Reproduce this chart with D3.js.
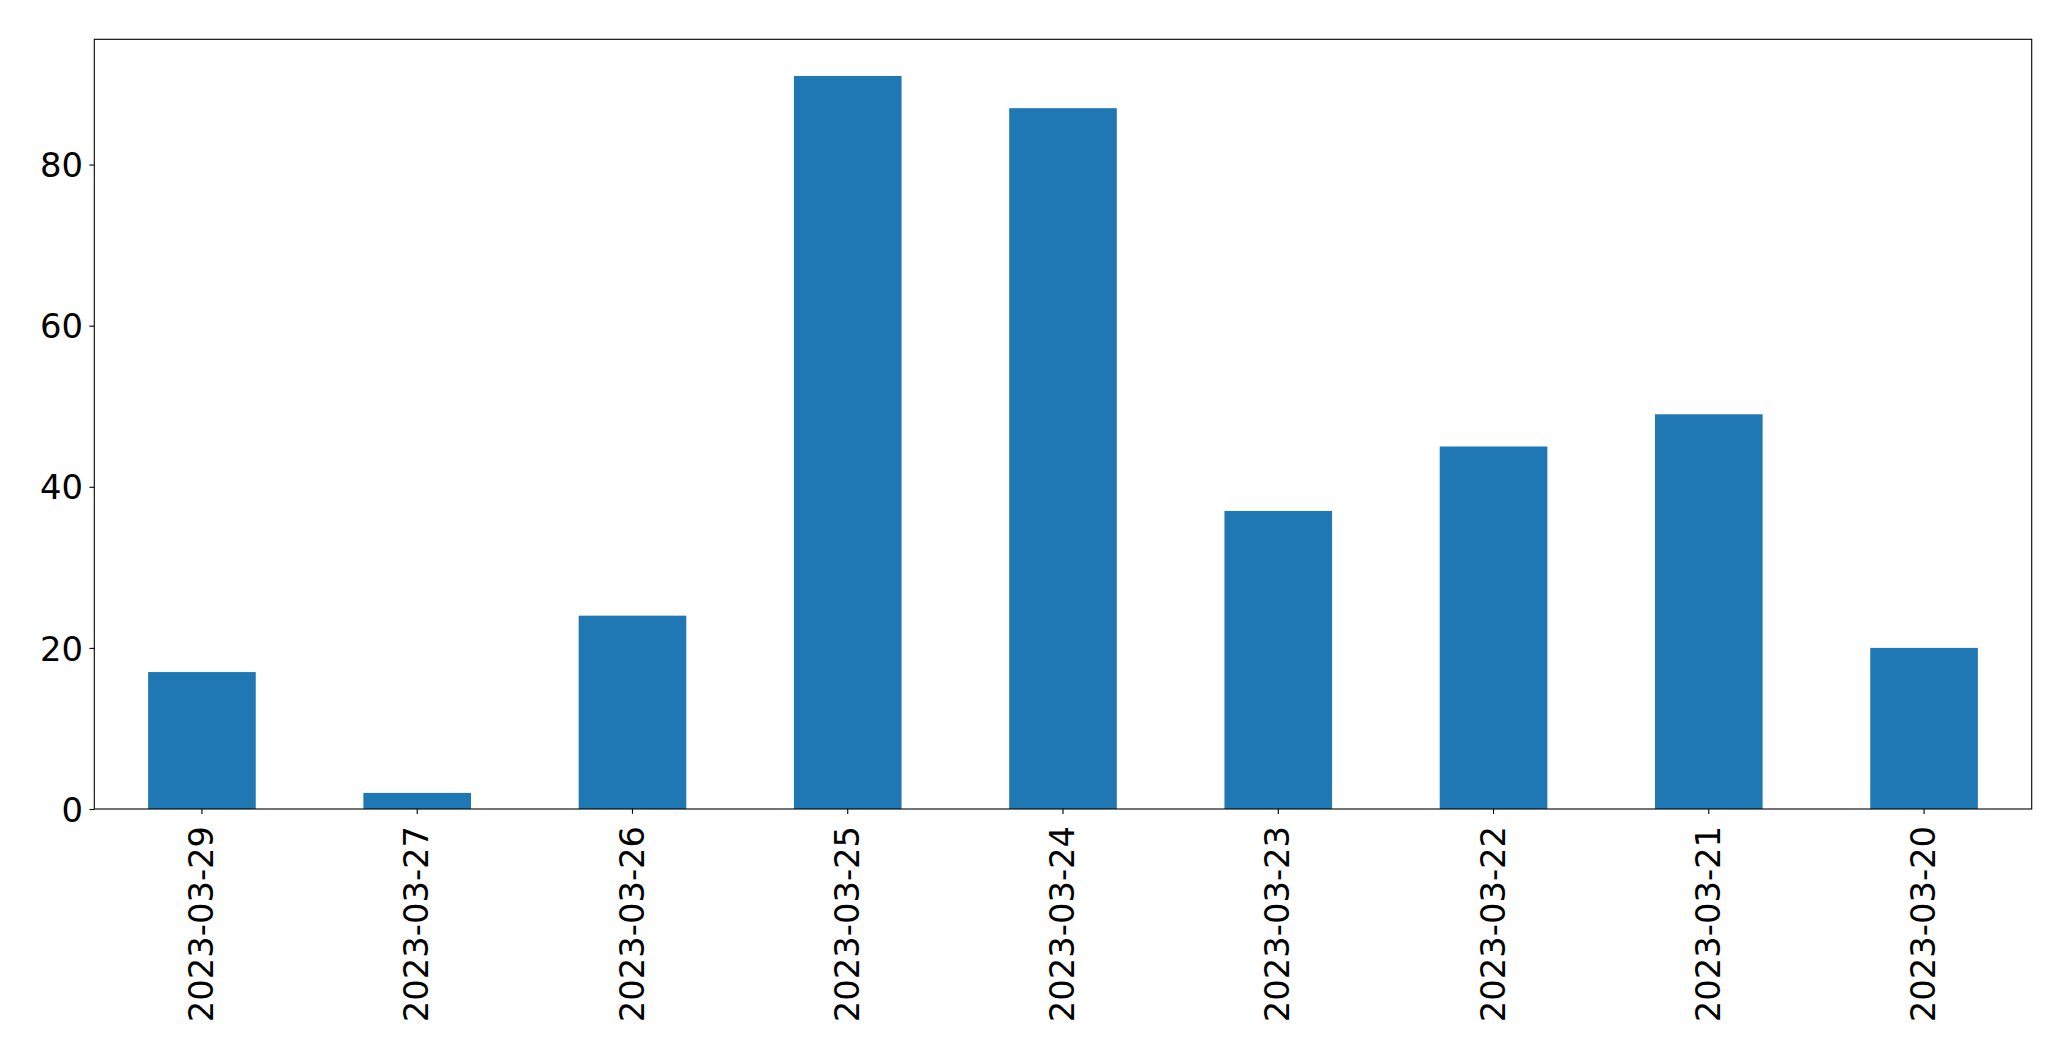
<!DOCTYPE html>
<html>
<head>
<meta charset="utf-8">
<script src="https://cdn.jsdelivr.net/npm/d3@7"></script>
<style>
  html, body { margin: 0; padding: 0; background: #fff; }
  svg { display: block; }
  text { font-family: "DejaVu Sans", sans-serif; fill: #000; }
</style>
</head>
<body>
<svg id="chart" width="2071" height="1061"></svg>
<script>
const categories = ["2023-03-29", "2023-03-27", "2023-03-26", "2023-03-25", "2023-03-24", "2023-03-23", "2023-03-22", "2023-03-21", "2023-03-20"];
const values = [17, 2, 24, 91, 87, 37, 45, 49, 20];
const yTicks = [0, 20, 40, 60, 80];

const W = 2071, H = 1061;
const margin = { left: 94.3, right: W - 2031.7, top: 39.3, bottom: H - 809 };
const iw = W - margin.left - margin.right;
const ih = H - margin.top - margin.bottom;
const fontSize = 33.8;
const tickLen = 4.9;

const svg = d3.select("#chart");
const g = svg.append("g").attr("transform", `translate(${margin.left},${margin.top})`);

const x = d3.scaleBand().domain(categories).range([0, iw]).paddingInner(0.5).paddingOuter(0.25);
const yMax = d3.max(values) * 1.05;
const y = d3.scaleLinear().domain([0, yMax]).range([ih, 0]);

g.selectAll("rect.bar")
  .data(values)
  .join("rect")
  .attr("class", "bar")
  .attr("x", (d, i) => x(categories[i]))
  .attr("width", x.bandwidth())
  .attr("y", d => y(d))
  .attr("height", d => y(0) - y(d))
  .attr("fill", "#1f77b4");

// frame
g.append("rect")
  .attr("x", 0).attr("y", 0).attr("width", iw).attr("height", ih)
  .attr("fill", "none").attr("stroke", "#000").attr("stroke-width", 1.1);

// y axis
const yAxis = d3.axisLeft(y).tickValues(yTicks).tickSize(tickLen).tickPadding(6.5).tickFormat(d3.format("d"));
const ya = g.append("g").call(yAxis);
ya.select(".domain").remove();
ya.selectAll("line").attr("stroke", "#000").attr("stroke-width", 1.1);
ya.selectAll("text").style("font-size", fontSize + "px").attr("font-family", "DejaVu Sans").attr("dy", "0.36em");

// x axis
const xAxis = d3.axisBottom(x).tickSize(tickLen).tickPadding(0);
const xa = g.append("g").attr("transform", `translate(0,${ih})`).call(xAxis);
xa.select(".domain").remove();
xa.selectAll("line").attr("stroke", "#000").attr("stroke-width", 1.1);
xa.selectAll("text")
  .style("font-size", fontSize + "px")
  .attr("font-family", "DejaVu Sans")
  .attr("text-anchor", "end")
  .attr("transform", "rotate(-90)")
  .attr("x", -(tickLen + 12))
  .attr("y", 0)
  .attr("dy", "0.33em");
</script>
</body>
</html>
